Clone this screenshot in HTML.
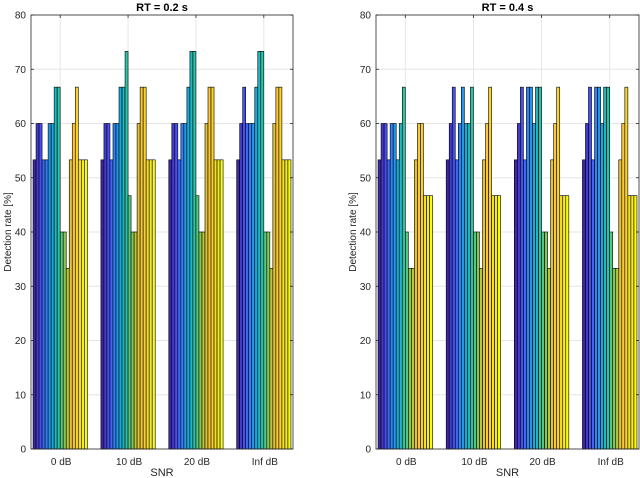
<!DOCTYPE html>
<html><head><meta charset="utf-8">
<style>
html,body{margin:0;padding:0;background:#fff;}
svg{display:block;font-family:"Liberation Sans",sans-serif;}
</style></head>
<body>
<svg id="chart" width="640" height="478" viewBox="0 0 640 478" xmlns="http://www.w3.org/2000/svg"></svg>
<script>
const categories = ["0 dB","10 dB","20 dB","Inf dB"];
const yTicks = [0,10,20,30,40,50,60,70,80];
const titles = ["RT = 0.2 s","RT = 0.4 s"];
const rt02_0dB  = [53.3,60,60,53.3,53.3,60,60,66.7,66.7,40,40,33.3,53.3,60,66.7,53.3,53.3,53.3];
const rt02_10dB = [53.3,60,60,53.3,60,60,66.7,66.7,73.3,46.7,40,40,60,66.7,66.7,53.3,53.3,53.3];
const rt02_20dB = [53.3,60,60,53.3,60,60,66.7,73.3,73.3,46.7,40,40,60,66.7,66.7,53.3,53.3,53.3];
const rt02_InfdB= [53.3,60,66.7,60,60,60,66.7,73.3,73.3,40,40,33.3,60,66.7,66.7,53.3,53.3,53.3];
const rt04_0dB  = [53.3,60,60,53.3,60,60,53.3,60,66.7,40,33.3,33.3,53.3,60,60,46.7,46.7,46.7];
const rt04_10dB = [53.3,60,66.7,53.3,60,66.7,60,60,66.7,40,40,33.3,53.3,60,66.7,46.7,46.7,46.7];
const rt04_20dB = [53.3,60,66.7,53.3,66.7,66.7,60,66.7,66.7,40,40,33.3,53.3,60,66.7,46.7,46.7,46.7];
const rt04_InfdB= [53.3,60,66.7,53.3,66.7,66.7,60,66.7,66.7,40,33.3,33.3,53.3,60,66.7,46.7,46.7,46.7];
const panelValues = [[rt02_0dB,rt02_10dB,rt02_20dB,rt02_InfdB],[rt04_0dB,rt04_10dB,rt04_20dB,rt04_InfdB]];

const NS="http://www.w3.org/2000/svg";
const svgEl=document.getElementById('chart');
function mk(tag,attrs,parent){const e=document.createElementNS(NS,tag);for(const k in attrs)e.setAttribute(k,attrs[k]);(parent||svgEl).appendChild(e);return e;}
const parula=[[0,[62,38,168]],[0.125,[72,82,244]],[0.25,[46,135,247]],[0.375,[18,177,214]],[0.5,[55,200,151]],[0.625,[171,199,57]],[0.75,[254,195,56]],[0.875,[245,222,38]],[1,[249,251,21]]];
function cmap(t){for(let i=1;i<parula.length;i++){if(t<=parula[i][0]){const a=parula[i-1],b=parula[i];const f=(t-a[0])/(b[0]-a[0]);const c=a[1].map((v,j)=>Math.round(v+(b[1][j]-v)*f));return `rgb(${c[0]},${c[1]},${c[2]})`;}}return 'rgb(249,251,21)';}

const panels=[{left:31,right:293},{left:376,right:639}];
const plotTop=15,plotBottom=449,ymax=80,xmin=0.57,xmax=4.43;
panels.forEach((p,pi)=>{
  const g=mk('g',{});
  
  
  const xs=v=>p.left+(v-xmin)/(xmax-xmin)*(p.right-p.left);
  const ys=v=>plotBottom-v/ymax*(plotBottom-plotTop);
  yTicks.forEach(t=>{const l=mk('line',{x1:p.left,x2:p.right,y1:ys(t),y2:ys(t),stroke:'#e6e6e6','stroke-width':1},g);
    
    });
  categories.forEach((c,ci)=>{const l=mk('line',{x1:xs(ci+1),x2:xs(ci+1),y1:plotTop,y2:plotBottom,stroke:'#e6e6e6','stroke-width':1},g);
    
    });
  const n=18, gw=0.8, bw=gw/n;
  panelValues[pi].forEach((vals,gi)=>{
    vals.forEach((v,bi)=>{
      const x0=xs(gi+1-gw/2+bi*bw), x1=xs(gi+1-gw/2+(bi+1)*bw);
      const r=mk('rect',{x:x0,y:ys(v),width:x1-x0,height:ys(0)-ys(v),fill:cmap(bi/(n-1)),stroke:'#000','stroke-width':0.6},g);
      
      
    });
  });
  const box=mk('rect',{x:p.left,y:plotTop,width:p.right-p.left,height:plotBottom-plotTop,fill:'none',stroke:'#262626','stroke-width':0.8},g);
  
  
  yTicks.forEach(t=>{
    mk('line',{x1:p.left,x2:p.left+3,y1:ys(t),y2:ys(t),stroke:'#262626','stroke-width':0.8},g);
    mk('line',{x1:p.right,x2:p.right-3,y1:ys(t),y2:ys(t),stroke:'#262626','stroke-width':0.8},g);
    const tx=mk('text',{x:p.left-5,y:ys(t)+3.5,'text-anchor':'end','font-size':10,fill:'#262626'},g);
    tx.textContent=t;
    
    
  });
  categories.forEach((c,ci)=>{
    mk('line',{x1:xs(ci+1),x2:xs(ci+1),y1:plotTop,y2:plotTop+3,stroke:'#262626','stroke-width':0.8},g);
    const tx=mk('text',{x:xs(ci+1)+1,y:465,'text-anchor':'middle','font-size':10,fill:'#262626'},g);
    tx.textContent=c;
    
    
  });
  const cx=(p.left+p.right)/2;
  const xl=mk('text',{x:cx,y:476,'text-anchor':'middle','font-size':11,fill:'#262626'},g);
  xl.textContent='SNR';
  
  
  const tt=mk('text',{x:cx,y:11,'text-anchor':'middle','font-size':11,'font-weight':'bold',fill:'#000'},g);
  tt.textContent=titles[pi];
  
  
  const yl=mk('text',{x:0,y:0,'text-anchor':'middle','font-size':10,fill:'#262626',transform:`translate(${p.left-20},${(plotTop+plotBottom)/2}) rotate(-90)`},g);
  yl.textContent='Detection rate [%]';
  
  
});
</script>
</body></html>
